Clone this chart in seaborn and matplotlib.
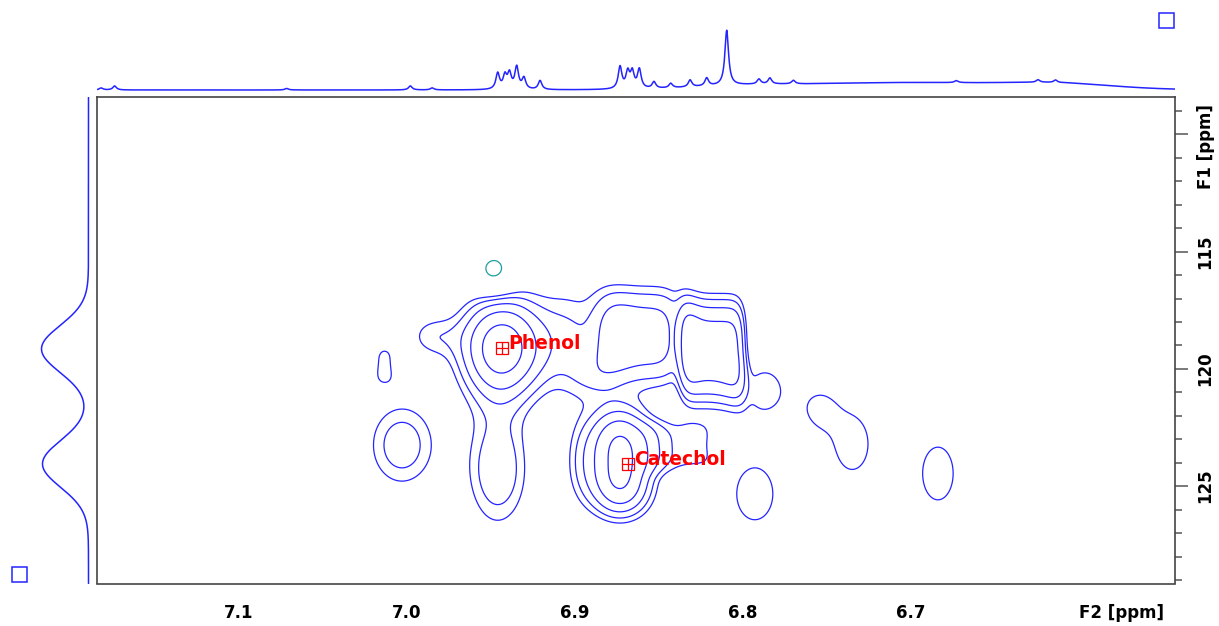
import matplotlib
matplotlib.use('Agg')
import matplotlib.pyplot as plt
import numpy as np
import seaborn as sns
from matplotlib.patches import Rectangle


# 2D cross peaks: F2 shift, F1 shift, height, widths, shape exponents
pk_f2 = [6.944, 6.8732, 6.8608, 6.818, 6.946, 7.003, 7.0137, 6.986,
         6.902, 6.787, 6.8375, 6.793, 6.755, 6.735, 6.684, 6.948, 6.897, 6.892]
pk_f1 = [119.10, 124.00, 118.60, 119.22, 124.30, 123.25, 119.83, 118.60,
         118.70, 120.90, 123.30, 125.33, 121.70, 123.20, 124.46, 115.90, 124.0, 120.4]
pk_amp = [4.7, 4.3, 2.25, 3.2, 1.9, 1.75, 1.08, 1.1,
          1.35, 1.3, 1.1, 1.3, 1.1, 1.35, 1.3, -1.6, 0.8, 0.6]
pk_w2 = [0.0168, 0.0135, 0.023, 0.0175, 0.014, 0.016, 0.006, 0.011,
         0.016, 0.012, 0.02, 0.0148, 0.009, 0.012, 0.0125, 0.009, 0.008, 0.01]
pk_w1 = [1.5, 1.8, 1.8, 1.84, 1.9, 1.45, 0.8, 0.7,
         1.8, 1.0, 1.0, 1.52, 0.8, 1.4, 1.55, 0.7, 1.3, 0.7]
pk_p2 = [2, 2, 4, 6, 2, 2, 2, 2, 2, 2, 4, 2, 2, 2, 2, 2, 2, 2]
pk_p1 = [2, 3, 3, 3, 2, 2, 4, 2, 2, 2, 4, 2, 2, 2, 2, 2, 2, 2]

# picked peaks
pick_names = ['Phenol', 'Catechol']
pick_f2 = [6.9433, 6.8686]
pick_f1 = [119.12, 124.06]

# 1H trace on top: lines (ppm, height in px above baseline)
h_ppm = [7.182, 7.174, 7.0716, 6.998, 6.985, 6.946, 6.9417, 6.939, 6.9347,
         6.9304, 6.9208, 6.8732, 6.8686, 6.8659, 6.8617, 6.853, 6.843,
         6.8315, 6.8216, 6.8097, 6.7905, 6.784, 6.770, 6.673, 6.6244, 6.614]
h_int = [2.0, 4.0, 1.5, 4.0, 2.0, 16.0, 13.0, 15.0, 22.0,
         11.0, 9.0, 22.0, 16.0, 16.0, 19.0, 6.5, 4.5,
         7.0, 8.0, 55.0, 5.0, 6.0, 3.5, 2.0, 2.5, 2.5]
# broad baseline humps of the 1H trace (ppm, px, width)
hump_ppm = [6.70, 6.61, 6.80]
hump_int = [7.5, 4.0, 2.5]
hump_w = [0.07, 0.03, 0.03]

# 13C projection on the left (ppm, px, width)
c_ppm = [119.15, 124.05]
c_int = [47.0, 46.0]
c_w = [1.0, 1.0]

F2_LIM = (7.1845, 6.5429)
F1_LIM = (129.15, 108.42)
BLUE = '#2424ff'

f2 = np.linspace(6.53, 7.20, 800)
f1 = np.linspace(108.0, 129.5, 600)
X, Y = np.meshgrid(f2, f1)
Z = np.zeros_like(X)
for c2, c1, a, w2, w1, p2, p1 in zip(pk_f2, pk_f1, pk_amp, pk_w2, pk_w1, pk_p2, pk_p1):
    Z += a * np.exp(-0.5 * np.abs((X - c2) / w2) ** p2 - 0.5 * np.abs((Y - c1) / w1) ** p1)

levels = 1.0 * 1.4 ** np.arange(6)

h_axis = np.linspace(F2_LIM[1], F2_LIM[0], 3000)
h_trace = np.zeros_like(h_axis)
for c, a in zip(h_ppm, h_int):
    h_trace += a / (1 + ((h_axis - c) / 0.0013) ** 2)
for c, a, w in zip(hump_ppm, hump_int, hump_w):
    h_trace += a * np.exp(-(h_axis - c) ** 2 / (2 * w ** 2))

c_axis = np.linspace(F1_LIM[1], F1_LIM[0], 800)
c_trace = np.zeros_like(c_axis)
for c, a, w in zip(c_ppm, c_int, c_w):
    c_trace += a * np.exp(-(c_axis - c) ** 2 / (2 * w ** 2))

sns.set_style('white')
plt.rcParams['font.family'] = ['DejaVu Sans']
plt.rcParams['text.color'] = 'black'
plt.rcParams['xtick.labelcolor'] = 'black'
plt.rcParams['ytick.labelcolor'] = 'black'

fig = plt.figure(figsize=(12.19, 6.26), dpi=100)
W, H = 1219, 626
ax = fig.add_axes([97 / W, 1 - 583.5 / H, 1078 / W, 486.2 / H])
ax_top = fig.add_axes([97 / W, 1 - 95 / H, 1078 / W, 75 / H])
ax_left = fig.add_axes([20 / W, 1 - 583.5 / H, 75 / W, 486.2 / H])

ax.contour(X, Y, Z, levels=levels, colors=BLUE, linewidths=0.9)
ax.contour(X, Y, Z, levels=[-1.0], colors='#1f9e9e', linewidths=0.9,
           linestyles='solid')

ax.plot(pick_f2, pick_f1, 's', ms=8, mfc='none', mec='red', mew=0.9)
ax.plot(pick_f2, pick_f1, '+', ms=8, mec='red', mew=0.9)
for name, x, y in zip(pick_names, pick_f2, pick_f1):
    ax.annotate(name, (x, y), xytext=(4.5, -0.5), textcoords='offset points',
                color='red', fontsize=13.5, fontweight='bold',
                ha='left', va='baseline')

ax.set_xlim(F2_LIM)
ax.set_ylim(F1_LIM)
ax.set_xticks([7.1, 7.0, 6.9, 6.8, 6.7, 6.6])
ax.set_xticklabels(['7.1', '7.0', '6.9', '6.8', '6.7', 'F2 [ppm]'])
ax.get_xticklabels()[-1].set_horizontalalignment('left')
ax.set_xticks(np.arange(6.56, 7.19, 0.02), minor=True)
ax.yaxis.tick_right()
ax.set_yticks([110, 115, 120, 125])
ax.set_yticklabels(['', '115', '120', '125'], rotation=90, va='center')
ax.set_yticks(np.arange(109, 130, 1), minor=True)
ax.tick_params(axis='x', which='major', length=8.6, width=1.1, color='#555555',
               pad=6, labelsize=12)
ax.tick_params(axis='x', which='minor', length=5, width=1.1, color='#555555')
ax.tick_params(axis='y', which='major', length=9.4, width=1.1, color='#555555',
               pad=6, labelsize=12)
ax.tick_params(axis='y', which='minor', length=5, width=1.1, color='#555555')
for lbl in ax.get_xticklabels() + ax.get_yticklabels():
    lbl.set_fontweight('bold')
ax.text(1.0204, 110.5, 'F1 [ppm]', transform=ax.get_yaxis_transform(),
        rotation=90, ha='left', va='center', fontsize=12, fontweight='bold')
for s in ax.spines.values():
    s.set_color('#444444')
    s.set_linewidth(1.2)

sns.lineplot(x=h_axis, y=h_trace, ax=ax_top, color=BLUE, lw=1.1,
             estimator=None, sort=False)
ax_top.set_xlim(F2_LIM)
ax_top.set_ylim(-5, 70)
ax_top.set_axis_off()

sns.lineplot(x=c_trace, y=c_axis, ax=ax_left, color=BLUE, lw=1.1,
             estimator=None, sort=False, orient='y')
ax_left.set_ylim(F1_LIM)
ax_left.set_xlim(68.5, -6.5)
ax_left.set_axis_off()

fig.add_artist(Rectangle((1159 / W, 1 - 28 / H), 15 / W, 15 / H,
                         transform=fig.transFigure, fill=False, ec=BLUE, lw=1.1))
fig.add_artist(Rectangle((12 / W, 1 - 582 / H), 15 / W, 15 / H,
                         transform=fig.transFigure, fill=False, ec=BLUE, lw=1.1))

fig.savefig('out.png', dpi=100)
